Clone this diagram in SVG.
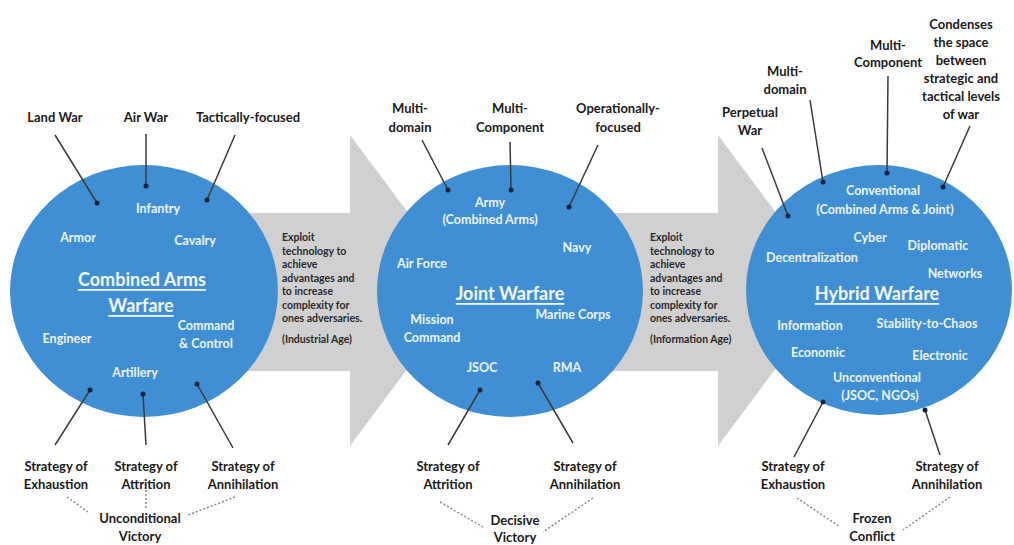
<svg xmlns="http://www.w3.org/2000/svg" width="1014" height="545" viewBox="0 0 1014 545">
<style>
.bg{fill:#ffffff}
.arrow{fill:#d0d0d0}
.circ{fill:#408fd5}
.lbl{font-family:Lato,"Liberation Sans",sans-serif;font-weight:bold;font-size:13px;fill:#1a1a1a;text-anchor:middle;dominant-baseline:central}
.in{font-family:Lato,"Liberation Sans",sans-serif;font-weight:bold;font-size:12.5px;fill:#eef4fb;text-anchor:middle;dominant-baseline:central}
.ttl{font-family:Lato,"Liberation Sans",sans-serif;font-weight:bold;font-size:18px;fill:#f4f8fc;text-anchor:middle;dominant-baseline:central;text-decoration:underline}
.note{font-family:Lato,"Liberation Sans",sans-serif;font-weight:bold;font-size:10.5px;fill:#2a2a2a;dominant-baseline:central}
.ln{stroke:#3a3a3a;stroke-width:1.5;fill:none}
.dash{stroke:#8a8a8a;stroke-width:1.5;stroke-dasharray:2 2;fill:none}
.dot{fill:#14233f}
</style>
<rect class="bg" x="0" y="0" width="1014" height="545"/>

<g id="arrow1">
<polygon class="arrow" points="240,213 350,213 350,135 466,290 350,446 350,371 240,371"/>
<text class="note" x="282"><tspan x="282" y="237">Exploit</tspan><tspan x="282" y="250.5">technology to</tspan><tspan x="282" y="264">achieve</tspan><tspan x="282" y="277.5">advantages and</tspan><tspan x="282" y="291">to increase</tspan><tspan x="282" y="304.5">complexity for</tspan><tspan x="282" y="318">ones adversaries.</tspan><tspan x="282" y="339">(Industrial Age)</tspan></text>
</g>
<g id="arrow2">
<polygon class="arrow" points="610,213 718,213 718,135 834,290 718,446 718,371 610,371"/>
<text class="note" x="650"><tspan x="650" y="237">Exploit</tspan><tspan x="650" y="250.5">technology to</tspan><tspan x="650" y="264">achieve</tspan><tspan x="650" y="277.5">advantages and</tspan><tspan x="650" y="291">to increase</tspan><tspan x="650" y="304.5">complexity for</tspan><tspan x="650" y="318">ones adversaries.</tspan><tspan x="650" y="339">(Information Age)</tspan></text>
</g>

<g id="combined-arms">
<ellipse class="circ" cx="144" cy="291" rx="134" ry="126"/>
<text class="in" x="158" y="208">Infantry</text>
<text class="in" x="78" y="237">Armor</text>
<text class="in" x="195" y="240">Cavalry</text>
<text class="ttl" x="142" y="279">Combined Arms</text>
<text class="ttl" x="141" y="305">Warfare</text>
<text class="in" x="206" y="325">Command</text>
<text class="in" x="206" y="343">&amp; Control</text>
<text class="in" x="67" y="338">Engineer</text>
<text class="in" x="135" y="372">Artillery</text>
</g>

<g id="joint">
<ellipse class="circ" cx="510" cy="291" rx="133" ry="126"/>
<text class="in" x="490" y="202">Army</text>
<text class="in" x="490" y="219">(Combined Arms)</text>
<text class="in" x="577" y="247">Navy</text>
<text class="in" x="422" y="263">Air Force</text>
<text class="ttl" x="510" y="293">Joint Warfare</text>
<text class="in" x="432" y="319">Mission</text>
<text class="in" x="432" y="337">Command</text>
<text class="in" x="573" y="314">Marine Corps</text>
<text class="in" x="482" y="367">JSOC</text>
<text class="in" x="567" y="367">RMA</text>
</g>

<g id="hybrid">
<ellipse class="circ" cx="879" cy="290" rx="133" ry="125"/>
<text class="in" x="883" y="190">Conventional</text>
<text class="in" x="885" y="209">(Combined Arms &amp; Joint)</text>
<text class="in" x="870" y="237">Cyber</text>
<text class="in" x="938" y="245">Diplomatic</text>
<text class="in" x="812" y="257">Decentralization</text>
<text class="in" x="955" y="273">Networks</text>
<text class="ttl" x="877" y="293">Hybrid Warfare</text>
<text class="in" x="810" y="325">Information</text>
<text class="in" x="927" y="323">Stability-to-Chaos</text>
<text class="in" x="818" y="352">Economic</text>
<text class="in" x="940" y="355">Electronic</text>
<text class="in" x="877" y="377">Unconventional</text>
<text class="in" x="880" y="395">(JSOC, NGOs)</text>
</g>

<g id="connectors">
<line class="ln" x1="55" y1="135" x2="97" y2="203"/>
<line class="ln" x1="146" y1="134" x2="146" y2="186"/>
<line class="ln" x1="235" y1="135" x2="207" y2="200"/>
<line class="ln" x1="90" y1="390" x2="55" y2="445"/>
<line class="ln" x1="143" y1="394" x2="146" y2="445"/>
<line class="ln" x1="197" y1="384" x2="233" y2="448"/>
<line class="ln" x1="422" y1="140" x2="448" y2="190"/>
<line class="ln" x1="510" y1="142" x2="511" y2="190"/>
<line class="ln" x1="598" y1="145" x2="569" y2="207"/>
<line class="ln" x1="480" y1="390" x2="448" y2="445"/>
<line class="ln" x1="538" y1="383" x2="573" y2="443"/>
<line class="ln" x1="762" y1="148" x2="788" y2="216"/>
<line class="ln" x1="810" y1="100" x2="823" y2="182"/>
<line class="ln" x1="888" y1="76" x2="887" y2="173"/>
<line class="ln" x1="970" y1="126" x2="943" y2="187"/>
<line class="ln" x1="823" y1="402" x2="794" y2="457"/>
<line class="ln" x1="925" y1="410" x2="940" y2="455"/>
<line class="dash" x1="67" y1="497" x2="88" y2="512"/>
<line class="dash" x1="146" y1="490" x2="146" y2="508"/>
<line class="dash" x1="235" y1="497" x2="188" y2="515"/>
<line class="dash" x1="440" y1="502" x2="483" y2="527"/>
<line class="dash" x1="593" y1="498" x2="543" y2="532"/>
<line class="dash" x1="797" y1="498" x2="840" y2="527"/>
<line class="dash" x1="950" y1="497" x2="903" y2="530"/>
<circle class="dot" cx="97" cy="203" r="2.5"/>
<circle class="dot" cx="146" cy="186" r="2.5"/>
<circle class="dot" cx="207" cy="200" r="2.5"/>
<circle class="dot" cx="90" cy="390" r="2.5"/>
<circle class="dot" cx="143" cy="394" r="2.5"/>
<circle class="dot" cx="197" cy="384" r="2.5"/>
<circle class="dot" cx="448" cy="190" r="2.5"/>
<circle class="dot" cx="511" cy="190" r="2.5"/>
<circle class="dot" cx="569" cy="207" r="2.5"/>
<circle class="dot" cx="480" cy="390" r="2.5"/>
<circle class="dot" cx="538" cy="383" r="2.5"/>
<circle class="dot" cx="788" cy="216" r="2.5"/>
<circle class="dot" cx="823" cy="182" r="2.5"/>
<circle class="dot" cx="887" cy="173" r="2.5"/>
<circle class="dot" cx="943" cy="187" r="2.5"/>
<circle class="dot" cx="823" cy="402" r="2.5"/>
<circle class="dot" cx="925" cy="410" r="2.5"/>
</g>

<g id="labels-top">
<text class="lbl" x="55" y="117">Land War</text>
<text class="lbl" x="146" y="117">Air War</text>
<text class="lbl" x="248" y="117">Tactically-focused</text>
<text class="lbl" x="410" y="108">Multi-</text>
<text class="lbl" x="410" y="127">domain</text>
<text class="lbl" x="510" y="108">Multi-</text>
<text class="lbl" x="510" y="127">Component</text>
<text class="lbl" x="618" y="108">Operationally-</text>
<text class="lbl" x="618" y="127">focused</text>
<text class="lbl" x="750" y="112">Perpetual</text>
<text class="lbl" x="750" y="130">War</text>
<text class="lbl" x="785" y="71">Multi-</text>
<text class="lbl" x="785" y="89">domain</text>
<text class="lbl" x="888" y="45">Multi-</text>
<text class="lbl" x="888" y="62">Component</text>
<text class="lbl" x="961" y="24">Condenses</text>
<text class="lbl" x="961" y="42">the space</text>
<text class="lbl" x="961" y="60">between</text>
<text class="lbl" x="961" y="78">strategic and</text>
<text class="lbl" x="961" y="96">tactical levels</text>
<text class="lbl" x="961" y="114">of war</text>
</g>

<g id="labels-bottom">
<text class="lbl" x="56" y="466">Strategy of</text>
<text class="lbl" x="56" y="484">Exhaustion</text>
<text class="lbl" x="146" y="466">Strategy of</text>
<text class="lbl" x="146" y="484">Attrition</text>
<text class="lbl" x="243" y="466">Strategy of</text>
<text class="lbl" x="243" y="484">Annihilation</text>
<text class="lbl" x="140" y="518">Unconditional</text>
<text class="lbl" x="140" y="536">Victory</text>
<text class="lbl" x="448" y="466">Strategy of</text>
<text class="lbl" x="448" y="484">Attrition</text>
<text class="lbl" x="585" y="466">Strategy of</text>
<text class="lbl" x="585" y="484">Annihilation</text>
<text class="lbl" x="515" y="520">Decisive</text>
<text class="lbl" x="515" y="537">Victory</text>
<text class="lbl" x="793" y="466">Strategy of</text>
<text class="lbl" x="793" y="484">Exhaustion</text>
<text class="lbl" x="947" y="466">Strategy of</text>
<text class="lbl" x="947" y="484">Annihilation</text>
<text class="lbl" x="872" y="518">Frozen</text>
<text class="lbl" x="872" y="536">Conflict</text>
</g>
</svg>
